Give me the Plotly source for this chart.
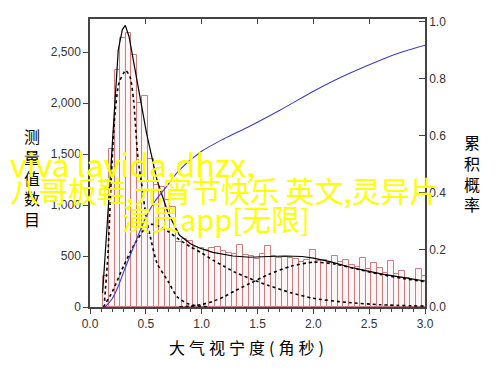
import plotly.graph_objects as go

# Histogram: bin centres (arcsec) and counts
bin_centers = [0.145, 0.195, 0.245, 0.295, 0.345, 0.395, 0.445, 0.495, 0.545, 0.595,
               0.645, 0.695, 0.745, 0.795, 0.845, 0.895, 0.945, 0.995, 1.045, 1.095,
               1.145, 1.195, 1.245, 1.295, 1.345, 1.395, 1.445, 1.495, 1.545, 1.595,
               1.645, 1.695, 1.745, 1.795, 1.845, 1.895, 1.945, 1.995, 2.045, 2.095,
               2.145, 2.195, 2.245, 2.295, 2.345, 2.395, 2.445, 2.495, 2.545, 2.595,
               2.645, 2.695, 2.745, 2.795, 2.845, 2.895, 2.945, 2.995]
counts = [300, 1550, 2320, 2640, 2690, 2470, 2000, 2070, 1450, 1200,
          1180, 1050, 980, 640, 665, 650, 590, 575, 560, 575,
          590, 550, 525, 520, 605, 510, 505, 470, 515, 600,
          500, 480, 490, 480, 475, 440, 460, 560, 450, 460,
          430, 500, 440, 460, 410, 390, 480, 370, 430, 380,
          330, 450, 320, 350, 280, 260, 370, 300]

# Total fitted curve (solid black)
fit_x = [0.113, 0.15, 0.18, 0.22, 0.253, 0.29, 0.316, 0.35, 0.388, 0.45, 0.507, 0.6, 0.7,
         0.8, 0.9, 0.98, 1.1, 1.28, 1.43, 1.6, 1.75, 1.9, 2.0, 2.15, 2.33, 2.5, 2.63, 2.8, 3.0]
fit_y = [137, 700, 1245, 1950, 2520, 2720, 2762, 2650, 2420, 2050, 1700, 1245, 920,
         706, 620, 578, 535, 500, 488, 495, 500, 495, 480, 445, 390, 350, 320, 290, 255]

# Component 1 (narrow peak, dotted)
c1_x = [0.13, 0.16, 0.19, 0.22, 0.26, 0.32, 0.36, 0.39, 0.43, 0.47, 0.5, 0.55, 0.6, 0.7,
        0.78, 0.87, 0.95, 1.05]
c1_y = [60, 500, 1250, 1850, 2200, 2320, 2250, 2030, 1450, 1150, 900, 640, 430, 250,
        100, 35, 12, 3]

# Component 2 (broad, dotted)
c2_x = [0.12, 0.2, 0.3, 0.4, 0.5, 0.55, 0.6, 0.7, 0.8, 0.9, 1.0, 1.1, 1.2, 1.3, 1.43,
        1.6, 1.8, 2.0, 2.3, 2.6, 3.0]
c2_y = [0, 150, 400, 620, 780, 810, 800, 740, 660, 590, 530, 460, 400, 340, 280,
        210, 140, 85, 45, 22, 8]

# Component 3 (wide tail, dotted)
c3_x = [0.8, 0.9, 1.0, 1.1, 1.2, 1.3, 1.43, 1.6, 1.8, 2.0, 2.2, 2.4, 2.6, 2.8, 3.0]
c3_y = [0, 8, 25, 55, 100, 160, 230, 320, 400, 440, 420, 370, 320, 280, 248]

# Cumulative probability (blue, right axis)
cum_x = [0.134, 0.2, 0.25, 0.313, 0.4, 0.5, 0.58, 0.7, 0.8, 1.0, 1.2, 1.43, 1.7, 2.03,
         2.3, 2.62, 2.8, 3.0]
cum_y = [0.0, 0.03, 0.07, 0.135, 0.22, 0.315, 0.37, 0.43, 0.48, 0.546, 0.59, 0.634,
         0.69, 0.763, 0.815, 0.869, 0.895, 0.918]

left_ticks = [0, 500, 1000, 1500, 2000, 2500]
right_ticks = [0.0, 0.2, 0.4, 0.6, 0.8, 1.0]
x_ticks = [0.0, 0.5, 1.0, 1.5, 2.0, 2.5, 3.0]

fig = go.Figure()
fig.add_trace(go.Bar(x=bin_centers, y=counts, width=0.05,
                     marker=dict(color="rgba(235,180,180,0.12)",
                                 line=dict(color="rgb(205,125,125)", width=1)),
                     showlegend=False))
dot = dict(color="black", width=1.6, dash="dot", shape="spline", smoothing=0.6)
fig.add_trace(go.Scatter(x=c1_x, y=c1_y, mode="lines", line=dot, showlegend=False))
fig.add_trace(go.Scatter(x=c2_x, y=c2_y, mode="lines", line=dot, showlegend=False))
fig.add_trace(go.Scatter(x=c3_x, y=c3_y, mode="lines", line=dot, showlegend=False))
fig.add_trace(go.Scatter(x=fit_x, y=fit_y, mode="lines", line=dict(color="black", width=1.2), showlegend=False))
fig.add_trace(go.Scatter(x=cum_x, y=cum_y, mode="lines", yaxis="y2", xaxis="x",
                         line=dict(color="rgb(60,60,200)", width=1.1, shape="spline", smoothing=0.8), showlegend=False))
# invisible trace to activate the top axis
fig.add_trace(go.Scatter(x=[0, 3], y=[0, 0], xaxis="x2", yaxis="y", mode="lines",
                         line=dict(width=0), hoverinfo="skip", showlegend=False))

tickfont = dict(family="Liberation Sans, Arial, sans-serif", size=12, color="#333")
axcol = "#444"

# the page has an 8px body margin, so the figure is offset by (8, 8)
fig.update_layout(
    template="none",
    width=500, height=369,
    margin=dict(l=82, r=83, t=11, b=70, autoexpand=False),
    paper_bgcolor="white", plot_bgcolor="white",
    bargap=0, showlegend=False,
    xaxis=dict(range=[0, 3.0], tickvals=x_ticks, ticktext=[f"{v:.1f}" for v in x_ticks],
               ticks="outside", ticklen=5, tickcolor=axcol, showline=True, linecolor=axcol,
               linewidth=1.5, showgrid=False, zeroline=False, tickfont=tickfont, automargin=False,
               minor=dict(dtick=0.1, ticks="outside", ticklen=3, tickcolor=axcol, showgrid=False)),
    xaxis2=dict(range=[0, 3.0], overlaying="x", side="top", tickvals=x_ticks,
                showticklabels=False, ticks="inside", ticklen=5, tickcolor=axcol, automargin=False,
                showline=True, linecolor=axcol, linewidth=1.5, showgrid=False, zeroline=False),
    yaxis=dict(range=[0, 2824], tickvals=left_ticks, tickformat=",", ticks="outside",
               ticklen=5, tickcolor=axcol, showline=True, linecolor=axcol, linewidth=1.5,
               showgrid=False, zeroline=False, tickfont=tickfont, automargin=False),
    yaxis2=dict(range=[0, 1.01], overlaying="y", side="right", tickvals=right_ticks,
                ticktext=[f"{v:.1f}" for v in right_ticks], ticks="inside", ticklen=6,
                tickcolor=axcol, showline=True, linecolor=axcol, linewidth=1.5, automargin=False,
                showgrid=False, zeroline=False, tickfont=tickfont),
)

cjk = "Noto Sans CJK SC"
annots = [
    dict(text="测<br>量<br>值<br>数<br>目", x=-0.173, y=0.448, xref="paper", yref="paper",
         xanchor="center", yanchor="middle",
         showarrow=False, font=dict(family=cjk, size=16, color="black"), align="center"),
    dict(text="累<br>积<br>概<br>率", x=1.14, y=0.465, xref="paper", yref="paper",
         xanchor="center", yanchor="middle",
         showarrow=False, font=dict(family=cjk, size=16, color="black"), align="center"),
    dict(text='<span style="letter-spacing:4px">大气视宁度(角秒)</span>', x=0.473, y=-0.139,
         xref="paper", yref="paper", xanchor="center", yanchor="middle", showarrow=False,
         font=dict(family=cjk, size=16, color="black")),
    dict(text="viva lavida,dhzx,", x=-0.2448, y=0.5, xref="paper", yref="paper",
         xanchor="left", yanchor="middle", showarrow=False,
         font=dict(family=cjk, size=32, color="#ffff00")),
    dict(text="八哥板鞋,元宵节快乐 英文,灵异片", x=-0.2448, y=0.406, xref="paper", yref="paper",
         xanchor="left", yanchor="middle", showarrow=False,
         font=dict(family=cjk, size=29, color="#ffff00")),
    dict(text="演员app[无限]", x=0.0896, y=0.309, xref="paper", yref="paper",
         xanchor="left", yanchor="middle", showarrow=False,
         font=dict(family=cjk, size=29, color="#ffff00")),
]
fig.update_layout(annotations=annots)

fig.write_html("out.html")
